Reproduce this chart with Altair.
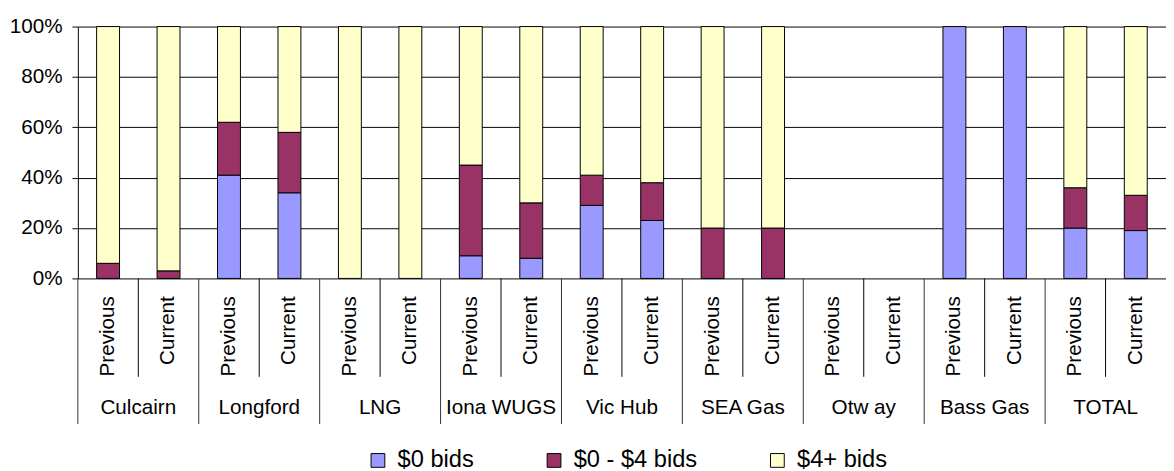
import altair as alt
import pandas as pd

groups = ["Culcairn", "Longford", "LNG", "Iona WUGS", "Vic Hub", "SEA Gas", "Otw ay", "Bass Gas", "TOTAL"]
periods = ["Previous", "Current"]
series = ["$0 bids", "$0 - $4 bids", "$4+ bids"]
colors = ["#9999FF", "#993366", "#FFFFCC"]

zero_prev = [0, 41, 0, 9, 29, 0, 0, 100, 20]
zero_cur = [0, 34, 0, 8, 23, 0, 0, 100, 19]
mid_prev = [6, 21, 0, 36, 12, 20, 0, 0, 16]
mid_cur = [3, 24, 0, 22, 15, 20, 0, 0, 14]
high_prev = [94, 38, 100, 55, 59, 80, 0, 0, 64]
high_cur = [97, 42, 100, 70, 62, 80, 0, 0, 67]
y_ticks = [0, 20, 40, 60, 80, 100]

FONT = "Liberation Sans"
FS = 21
LFS = 24

vals = {
    "Previous": [zero_prev, mid_prev, high_prev],
    "Current": [zero_cur, mid_cur, high_cur],
}
keys = []
rows = []
lab_rows = []
for gi, g in enumerate(groups):
    for p in periods:
        k = f"{g}|{p}"
        keys.append(k)
        lab_rows.append({"key": k, "period": p, "group": g,
                         "inner": p == "Current", "gstart": p == "Previous"})
        for si, s in enumerate(series):
            v = vals[p][si][gi]
            if v > 0:
                rows.append({"key": k, "series": s, "ord": si, "value": v})
df = pd.DataFrame(rows)
labs = pd.DataFrame(lab_rows)

W = 1106
H = 256
xscale = alt.Scale(domain=keys, paddingInner=0, paddingOuter=0)

bars = alt.Chart(df).mark_bar(width=23.3, stroke="black", strokeWidth=1).encode(
    x=alt.X("key:N", scale=xscale, axis=None),
    y=alt.Y("value:Q", stack="zero",
            scale=alt.Scale(domain=[0, 100], nice=False),
            axis=alt.Axis(values=y_ticks, labelExpr="datum.value + '%'", title=None,
                          grid=True, gridColor="black", gridOpacity=1, gridWidth=1,
                          domainColor="black", tickColor="black", tickSize=6,
                          labelFont=FONT, labelFontSize=FS, labelColor="black",
                          labelPadding=10)),
    color=alt.Color("series:N", scale=alt.Scale(domain=series, range=colors),
                    legend=alt.Legend(title=None, orient="none", direction="horizontal",
                                      legendX=293, legendY=429,
                                      symbolType="square", symbolSize=196,
                                      symbolStrokeColor="black", symbolStrokeWidth=1,
                                      symbolOpacity=1,
                                      labelFont=FONT, labelFontSize=LFS, labelColor="black",
                                      labelOffset=8, columnPadding=69, padding=0)),
    order=alt.Order("ord:Q"),
)

base = alt.Chart(labs)

inner_sep = base.transform_filter("datum.inner").mark_rule(color="black", strokeWidth=1).encode(
    x=alt.X("key:N", scale=xscale, bandPosition=0, axis=None),
    y=alt.value(H), y2=alt.value(H + 100),
)
group_sep = base.transform_filter("datum.gstart").mark_rule(color="#333333", strokeWidth=1).encode(
    x=alt.X("key:N", scale=xscale, bandPosition=0, axis=None),
    y=alt.value(H), y2=alt.value(H + 148),
)
inner_text = base.mark_text(angle=270, align="right", baseline="middle",
                            font=FONT, fontSize=FS, color="black").encode(
    x=alt.X("key:N", scale=xscale, axis=None),
    y=alt.value(H + 18),
    text="period:N",
)
group_text = base.transform_filter("datum.inner").mark_text(
    align="center", baseline="alphabetic", font=FONT, fontSize=FS, color="black").encode(
    x=alt.X("key:N", scale=xscale, bandPosition=0, axis=None),
    y=alt.value(H + 138),
    text="group:N",
)

chart = alt.layer(bars, inner_sep, group_sep, inner_text, group_text).properties(
    width=W, height=H,
    autosize=alt.AutoSizeParams(type="none"),
    padding={"left": 71, "top": 15, "right": 0, "bottom": 200},
).configure_view(stroke=None)

chart.save("out.html", embed_options={"renderer": "svg", "actions": False})
